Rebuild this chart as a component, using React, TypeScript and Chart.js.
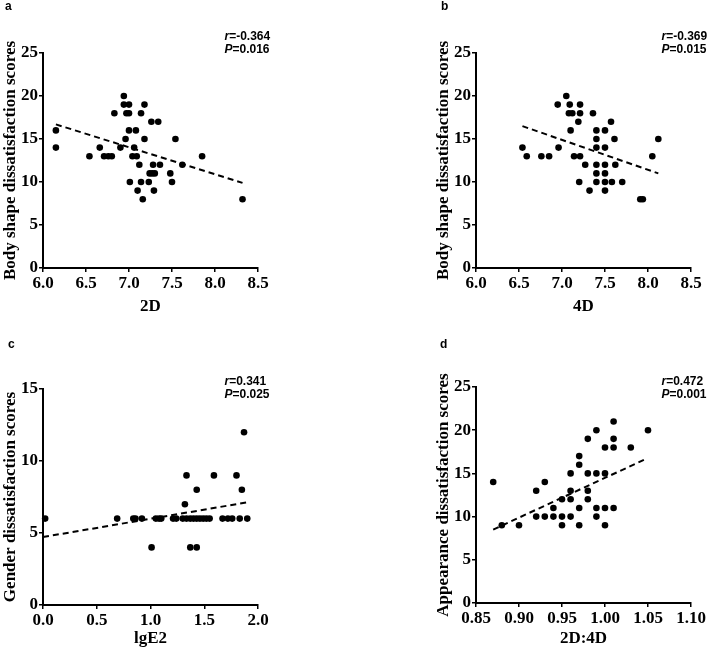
import { useEffect, useRef } from "react"
import { Chart, registerables } from "chart.js"

Chart.register(...registerables)

const SERIF = "'Liberation Serif', 'Times New Roman', serif"
const SANS = "'Liberation Sans', Arial, sans-serif"

// panel a: 2D vs body shape dissatisfaction
const digit2D = [6.15, 6.15, 6.54, 6.66, 6.71, 6.76, 6.8, 6.83, 6.9, 6.94, 6.94, 7.0, 6.97, 7.0, 6.96, 7.0, 7.08, 7.01, 7.06, 7.04, 7.09, 7.12, 7.1, 7.14, 7.14, 7.18, 7.18, 7.16, 7.23, 7.26, 7.24, 7.27, 7.3, 7.28, 7.29, 7.34, 7.36, 7.48, 7.5, 7.54, 7.62, 7.85, 8.32]
const bodyShapeA = [16, 14, 13, 14, 13, 13, 13, 18, 14, 20, 19, 19, 18, 18, 15, 16, 16, 10, 14, 13, 13, 12, 9, 18, 10, 19, 15, 8, 10, 17, 11, 11, 11, 12, 9, 17, 12, 11, 10, 15, 12, 13, 8]
const fitAx = [6.15, 8.32]
const fitAy = [16.7, 9.9]

// panel b: 4D vs body shape dissatisfaction
const digit4D = [6.54, 6.59, 6.76, 6.85, 6.95, 6.96, 7.05, 7.09, 7.08, 7.12, 7.1, 7.14, 7.21, 7.21, 7.19, 7.21, 7.2, 7.27, 7.32, 7.36, 7.4, 7.4, 7.4, 7.4, 7.4, 7.4, 7.5, 7.5, 7.5, 7.5, 7.5, 7.5, 7.57, 7.58, 7.61, 7.62, 7.7, 7.91, 7.94, 8.05, 8.12]
const bodyShapeB = [14, 13, 13, 13, 19, 14, 20, 19, 18, 18, 16, 13, 19, 18, 17, 13, 10, 12, 9, 18, 16, 15, 14, 12, 11, 10, 16, 14, 12, 11, 10, 9, 17, 10, 15, 12, 10, 8, 8, 13, 15]
const fitBx = [6.54, 8.12]
const fitBy = [16.5, 11.0]

// panel c: lgE2 vs gender dissatisfaction
const lgE2 = [0.02, 0.69, 0.84, 0.86, 0.92, 1.01, 1.05, 1.08, 1.1, 1.21, 1.24, 1.3, 1.335, 1.37, 1.4, 1.43, 1.46, 1.49, 1.52, 1.55, 1.32, 1.335, 1.43, 1.37, 1.43, 1.59, 1.67, 1.72, 1.76, 1.8, 1.85, 1.87, 1.83, 1.9]
const genderScores = [6, 6, 6, 6, 6, 4, 6, 6, 6, 6, 6, 6, 6, 6, 6, 6, 6, 6, 6, 6, 7, 9, 8, 4, 4, 9, 6, 6, 6, 9, 8, 12, 6, 6]
const fitCx = [0.0, 1.9]
const fitCy = [4.72, 7.13]

// panel d: 2D:4D vs appearance dissatisfaction
const ratio2D4D = [0.87, 0.88, 0.9, 0.92, 0.92, 0.93, 0.93, 0.94, 0.94, 0.95, 0.95, 0.95, 0.96, 0.96, 0.96, 0.96, 0.97, 0.97, 0.97, 0.97, 0.98, 0.98, 0.98, 0.98, 0.99, 0.99, 0.99, 0.99, 1.0, 1.0, 1.0, 1.0, 1.01, 1.01, 1.01, 1.01, 1.03, 1.05]
const appearanceScores = [14, 9, 9, 13, 10, 14, 10, 11, 10, 12, 10, 9, 15, 13, 12, 10, 17, 16, 11, 9, 19, 15, 13, 12, 20, 15, 11, 10, 18, 15, 11, 9, 21, 19, 18, 11, 18, 20]
const fitDx = [0.87, 1.046]
const fitDy = [8.5, 16.6]

const digitTicks = [6.0, 6.5, 7.0, 7.5, 8.0, 8.5]
const lgE2Ticks = [0.0, 0.5, 1.0, 1.5, 2.0]
const ratioTicks = [0.85, 0.9, 0.95, 1.0, 1.05, 1.1]
const score25Ticks = [0, 5, 10, 15, 20, 25]
const score15Ticks = [0, 5, 10, 15]

interface PanelProps {
  letter: string
  left: number
  top: number
  height: number
  padTop: number
  plotH: number
  xs: number[]
  ys: number[]
  fitX: number[]
  fitY: number[]
  xTicks: number[]
  yTicks: number[]
  xDec: number
  xTitle: string
  yTitle: string
  r: string
  p: string
  statX: number
  statDy: number[]
  letterPos: number[]
}

function Panel(props: PanelProps) {
  const canvasRef = useRef<HTMLCanvasElement>(null)
  const chartRef = useRef<Chart | null>(null)

  useEffect(() => {
    if (!canvasRef.current) return
    if (chartRef.current) chartRef.current.destroy()

    const tickFont = { family: SERIF, size: 17, weight: "bold" as const }
    const xAxisH = props.height - props.padTop - props.plotH

    const statsPlugin = {
      id: "stats",
      afterDraw(chart: Chart) {
        const { ctx, chartArea } = chart
        ctx.save()
        ctx.fillStyle = "#000"
        ctx.textBaseline = "middle"
        ctx.textAlign = "left"
        const x0 = chartArea.right + props.statX
        const lines = [
          ["r", "=" + props.r, props.statDy[0]],
          ["P", "=" + props.p, props.statDy[1]],
        ] as const
        for (const [sym, rest, dy] of lines) {
          const y = chartArea.top + dy
          ctx.font = `italic bold 12px ${SANS}`
          ctx.fillText(sym, x0, y)
          const w = ctx.measureText(sym).width
          ctx.font = `bold 12px ${SANS}`
          ctx.fillText(rest, x0 + w, y)
        }
        ctx.font = `bold 12px ${SANS}`
        ctx.textBaseline = "alphabetic"
        ctx.fillText(props.letter, props.letterPos[0], props.letterPos[1])
        ctx.restore()
      },
    }

    chartRef.current = new Chart(canvasRef.current, {
      type: "scatter",
      data: {
        datasets: [
          {
            type: "scatter",
            data: props.xs.map((x, i) => ({ x, y: props.ys[i] })),
            backgroundColor: "#000",
            borderColor: "#000",
            pointRadius: 3.3,
            pointBorderWidth: 0,
            clip: false,
          },
          {
            type: "line",
            data: props.fitX.map((x, i) => ({ x, y: props.fitY[i] })),
            borderColor: "#000",
            borderWidth: 2,
            borderDash: [6, 4],
            pointRadius: 0,
            fill: false,
            clip: false,
          },
        ],
      },
      options: {
        animation: false,
        responsive: false,
        layout: { padding: { top: props.padTop, left: 0, right: 275 - 43 - 215, bottom: 0 } },
        plugins: { legend: { display: false }, tooltip: { enabled: false } },
        scales: {
          x: {
            type: "linear",
            min: props.xTicks[0],
            max: props.xTicks[props.xTicks.length - 1],
            afterBuildTicks: (s: any) => {
              s.ticks = props.xTicks.map((v) => ({ value: v }))
            },
            afterFit: (s: any) => {
              s.height = xAxisH
            },
            ticks: {
              autoSkip: false,
              maxRotation: 0,
              color: "#000",
              font: tickFont,
              padding: 1,
              callback: (v) => Number(v).toFixed(props.xDec),
            },
            grid: { drawOnChartArea: false, drawTicks: true, tickLength: 4, color: "#000", lineWidth: 1.5 },
            border: { color: "#000", width: 2 },
            title: { display: true, text: props.xTitle, color: "#000", font: tickFont, padding: { top: 0, bottom: 3 } },
          },
          y: {
            type: "linear",
            min: props.yTicks[0],
            max: props.yTicks[props.yTicks.length - 1],
            afterBuildTicks: (s: any) => {
              s.ticks = props.yTicks.map((v) => ({ value: v }))
            },
            afterFit: (s: any) => {
              s.width = 43
            },
            ticks: {
              autoSkip: false,
              color: "#000",
              font: tickFont,
              padding: 1,
              callback: (v) => String(v),
            },
            grid: { drawOnChartArea: false, drawTicks: true, tickLength: 4, color: "#000", lineWidth: 1.5 },
            border: { color: "#000", width: 2 },
            title: { display: true, text: props.yTitle, color: "#000", font: tickFont, padding: { top: 0, bottom: 0 } },
          },
        },
      },
      plugins: [statsPlugin],
    })

    return () => {
      if (chartRef.current) chartRef.current.destroy()
      chartRef.current = null
    }
  }, [props])

  return (
    <canvas
      ref={canvasRef}
      width={275}
      height={props.height}
      style={{ position: "absolute", left: props.left, top: props.top, width: 275, height: props.height }}
    />
  )
}

const panelA: PanelProps = {
  letter: "a", left: 0, top: 0, height: 320, padTop: 53, plotH: 215,
  xs: digit2D, ys: bodyShapeA, fitX: fitAx, fitY: fitAy,
  xTicks: digitTicks, yTicks: score25Ticks, xDec: 1,
  xTitle: "2D", yTitle: "Body shape dissatisfaction scores",
  r: "-0.364", p: "0.016", statX: -33.5, statDy: [-16.5, -3], letterPos: [5, 9.5],
}
const panelB: PanelProps = {
  letter: "b", left: 433, top: 0, height: 320, padTop: 53, plotH: 215,
  xs: digit4D, ys: bodyShapeB, fitX: fitBx, fitY: fitBy,
  xTicks: digitTicks, yTicks: score25Ticks, xDec: 1,
  xTitle: "4D", yTitle: "Body shape dissatisfaction scores",
  r: "-0.369", p: "0.015", statX: -29.5, statDy: [-16.5, -3], letterPos: [8, 9.5],
}
const panelC: PanelProps = {
  letter: "c", left: 0, top: 335, height: 317, padTop: 54, plotH: 216,
  xs: lgE2, ys: genderScores, fitX: fitCx, fitY: fitCy,
  xTicks: lgE2Ticks, yTicks: score15Ticks, xDec: 1,
  xTitle: "lgE2", yTitle: "Gender dissatisfaction scores",
  r: "0.341", p: "0.025", statX: -33.5, statDy: [-7, 5.5], letterPos: [8, 13],
}
const panelD: PanelProps = {
  letter: "d", left: 433, top: 335, height: 317, padTop: 52, plotH: 216,
  xs: ratio2D4D, ys: appearanceScores, fitX: fitDx, fitY: fitDy,
  xTicks: ratioTicks, yTicks: score25Ticks, xDec: 2,
  xTitle: "2D:4D", yTitle: "Appearance dissatisfaction scores",
  r: "0.472", p: "0.001", statX: -29.5, statDy: [-5, 7.5], letterPos: [7, 12.5],
}

export default function App() {
  return (
    <div
      style={{
        position: "absolute",
        left: 0,
        top: 0,
        width: 708,
        height: 652,
        overflow: "hidden",
        background: "#fff",
      }}
    >
      <Panel {...panelA} />
      <Panel {...panelB} />
      <Panel {...panelC} />
      <Panel {...panelD} />
    </div>
  )
}
